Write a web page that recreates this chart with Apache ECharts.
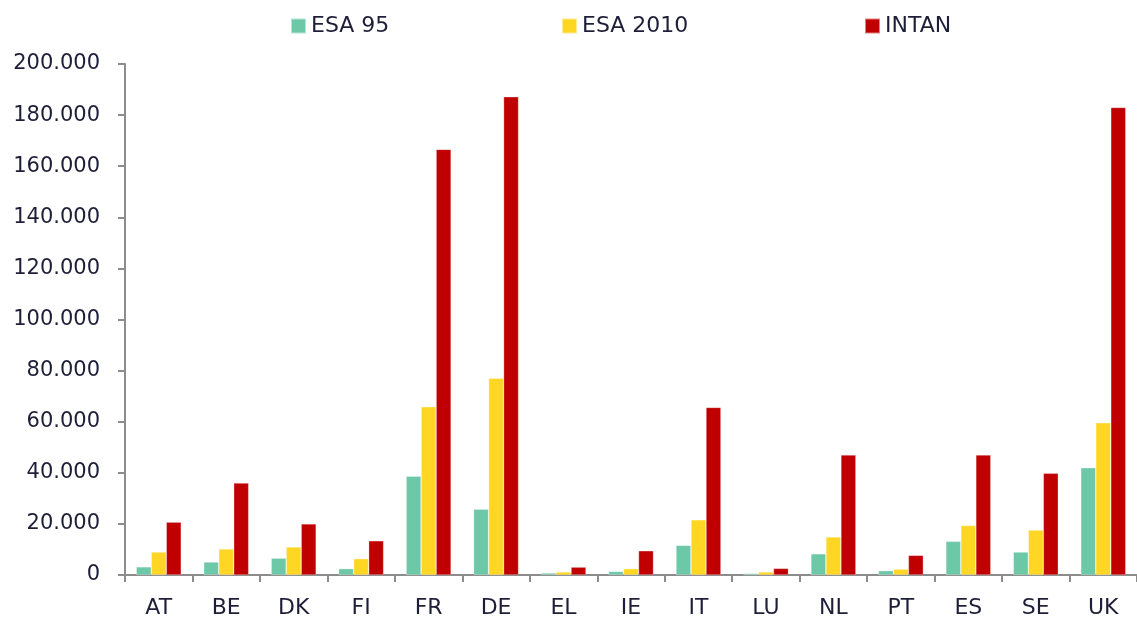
<!DOCTYPE html>
<html>
<head>
<meta charset="utf-8">
<script src="https://cdn.jsdelivr.net/npm/echarts@6/dist/echarts.min.js"></script>
<style>
  html, body { margin: 0; padding: 0; background: #fff; }
  #chart { width: 1137px; height: 619px; }
</style>
</head>
<body>
<div id="chart"></div>
<script>
// Landen en waarden (in duizenden)
var categories = ['AT', 'BE', 'DK', 'FI', 'FR', 'DE', 'EL', 'IE', 'IT', 'LU', 'NL', 'PT', 'ES', 'SE', 'UK'];
var esa95   = [3200, 5100, 6600, 2500, 38700, 25800, 800, 1400, 11600, 600, 8300, 1700, 13200, 9000, 42000];
var esa2010 = [9000, 10200, 11000, 6400, 65900, 77000, 1200, 2500, 21600, 1200, 14900, 2300, 19400, 17600, 59600];
var intan   = [20700, 36000, 20000, 13400, 166600, 187200, 3100, 9500, 65600, 2600, 47000, 7700, 47000, 39800, 183000];
var seriesNames = ['ESA 95', 'ESA 2010', 'INTAN'];
var colors = ['#6DC8A8', '#FFD624', '#C00000'];

var font = 'DejaVu Sans';
var textColor = '#1E1E38';
var axisGray = '#8C8C8C';

function fmt(v) {
    return String(v).replace(/\B(?=(\d{3})+(?!\d))/g, '.');
}

var chart = echarts.init(document.getElementById('chart'));

// losse legenda's zodat elk item op zijn eigen plek staat
var legendLefts = [290, 561, 864];
var legends = seriesNames.map(function (name, i) {
    return {
        data: [name],
        left: legendLefts[i],
        top: 15,
        padding: 0,
        itemWidth: 15,
        itemHeight: 15,
        itemGap: 0,
        icon: 'rect',
        textStyle: { fontFamily: font, fontSize: 22, color: textColor }
    };
});

var values = [esa95, esa2010, intan];
var series = seriesNames.map(function (name, i) {
    return {
        name: name,
        type: 'bar',
        barWidth: 15,
        barGap: '0%',
        itemStyle: { color: colors[i], borderColor: 'rgba(255,255,255,0.5)', borderWidth: 0.6 },
        data: values[i]
    };
});

var option = {
    animation: false,
    legend: legends,
    grid: { left: 125, right: -5, top: 64, bottom: 44 },
    xAxis: {
        type: 'category',
        data: categories,
        axisLine: { lineStyle: { color: axisGray, width: 2 } },
        axisTick: { show: true, length: 7, lineStyle: { color: axisGray, width: 2 } },
        axisLabel: { fontFamily: font, fontSize: 22, color: textColor, margin: 22 }
    },
    yAxis: {
        type: 'value',
        min: 0,
        max: 200000,
        interval: 20000,
        axisLine: { show: true, lineStyle: { color: axisGray, width: 2 } },
        axisTick: { show: true, length: 7, lineStyle: { color: axisGray, width: 2 } },
        splitLine: { show: false },
        axisLabel: { fontFamily: font, fontSize: 21, color: textColor, margin: 25, formatter: fmt }
    },
    series: series
};

chart.setOption(option);
</script>
</body>
</html>
